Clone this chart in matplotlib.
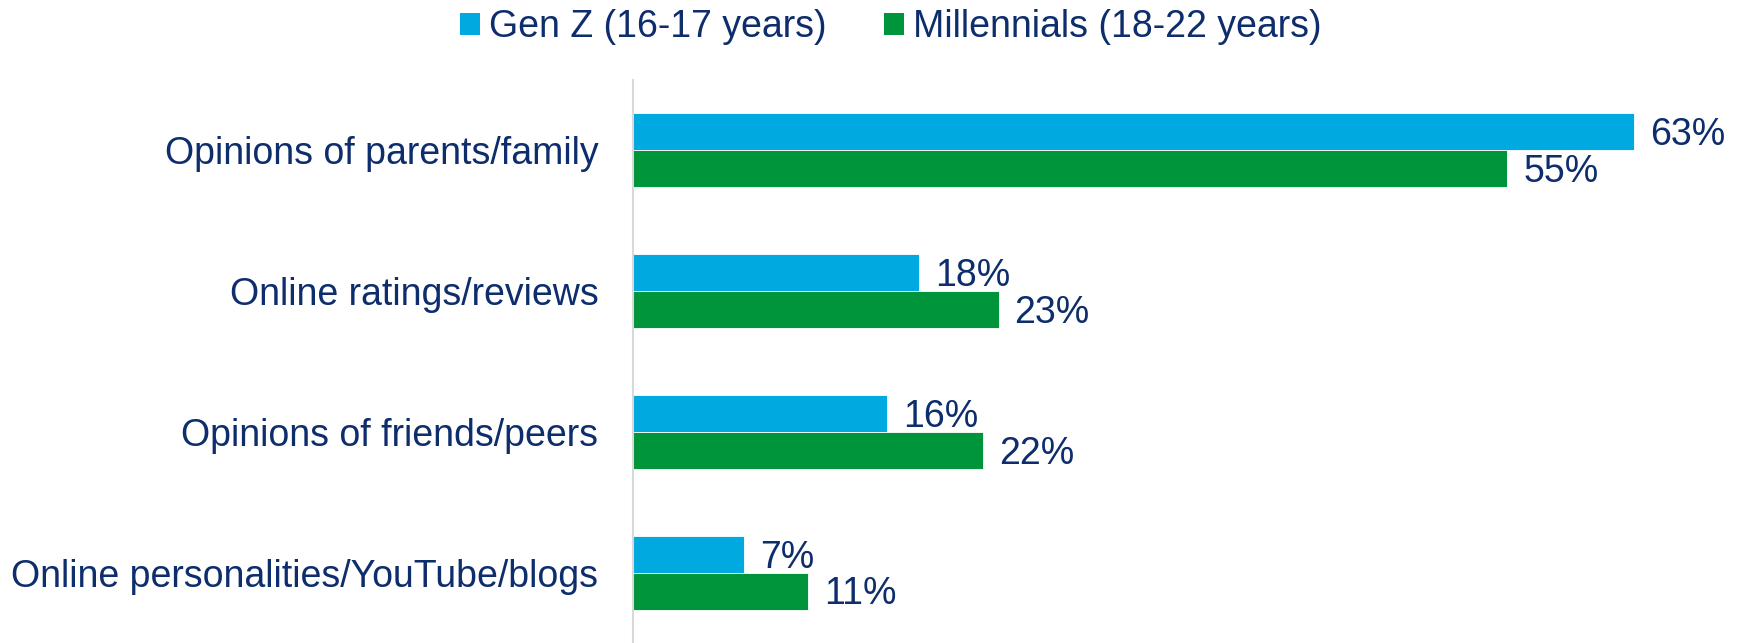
import matplotlib
matplotlib.use("Agg")
import matplotlib.pyplot as plt
from matplotlib.patches import Patch
import numpy as np

plt.rcParams['font.family'] = ['Liberation Sans', 'DejaVu Sans']

categories = [
    "Opinions of parents/family",
    "Online ratings/reviews",
    "Opinions of friends/peers",
    "Online personalities/YouTube/blogs",
]
series_names = ["Gen Z (16-17 years)", "Millennials (18-22 years)"]
gen_z = [63, 18, 16, 7]
millennials = [55, 23, 22, 11]

blue = "#00A9E0"
green = "#00953A"
navy = "#0D2D6C"
axis_gray = "#D9D9D9"
fs = 27

fig = plt.figure(figsize=(17.44, 6.43), dpi=100)
ax = fig.add_axes([633 / 1744, 0.0, 1 - 633 / 1744, 1 - 80 / 643])

y = np.arange(len(categories))
h = 0.262

bars_z = ax.barh(y - h / 2, gen_z, height=h, color=blue,
                 edgecolor="white", linewidth=0.6)
bars_m = ax.barh(y + h / 2, millennials, height=h, color=green,
                 edgecolor="white", linewidth=0.6)

# value labels: digits vertically centred on each bar
for bars, vals in ((bars_z, gen_z), (bars_m, millennials)):
    for b, v in zip(bars, vals):
        ax.annotate(f"{v}%", xy=(v, b.get_y() + b.get_height() / 2),
                    xytext=(11.5, -0.358 * fs), textcoords="offset points",
                    ha="left", va="baseline", fontsize=fs, color=navy)

ax.set_ylim(len(categories) - 0.5, -0.5)
ax.set_xlim(0, 69.9)
ax.set_yticks(y)
ax.set_yticklabels(categories, fontsize=fs, color=navy)
ax.tick_params(axis="y", length=0, pad=25)
ax.set_xticks([])
for side in ("top", "right", "bottom"):
    ax.spines[side].set_visible(False)
ax.spines["left"].set_color(axis_gray)
ax.spines["left"].set_linewidth(1.5)

handles = [Patch(facecolor=blue, edgecolor="none"),
           Patch(facecolor=green, edgecolor="none")]
fig.legend(handles, series_names, loc="center", ncol=2,
           bbox_to_anchor=(891 / 1744, 1 - 27 / 643), frameon=False,
           fontsize=fs, labelcolor=navy, handlelength=0.52,
           handleheight=0.52, handletextpad=0.25, columnspacing=1.53,
           borderpad=0, borderaxespad=0)

fig.savefig("out.png", dpi=100, facecolor="white")
